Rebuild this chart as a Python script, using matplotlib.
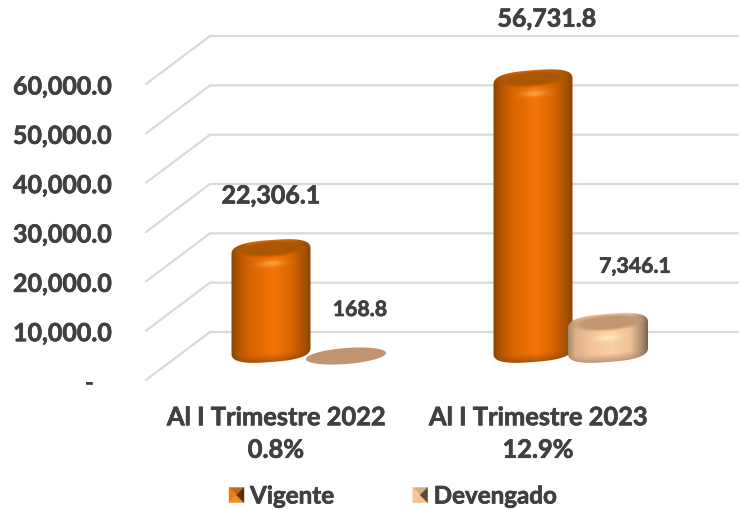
import numpy as np
import matplotlib
matplotlib.use("Agg")
import matplotlib.pyplot as plt
import matplotlib.patheffects as pe
from matplotlib.patches import Polygon
from matplotlib.legend_handler import HandlerBase

# ---------- data ----------
categories = ["Al I Trimestre 2022\n0.8%", "Al I Trimestre 2023\n12.9%"]
series_names = ["Vigente", "Devengado"]
vigente = [22306.1, 56731.8]
devengado = [168.8, 7346.1]
y_ticks = [0, 10000, 20000, 30000, 40000, 50000, 60000]
y_tick_labels = ["-   ", "10,000.0", "20,000.0", "30,000.0", "40,000.0", "50,000.0", "60,000.0"]

# ---------- layout (pixels of the 739x510 canvas) ----------
W, H = 739, 510
K = 0.004933          # pixels per unit
WALL_Y0 = 333         # pixel row of value 0 on the back wall
FRONT_Y0 = 381        # pixel row of value 0 on the front edge
BAR_Y0 = 363
v2 = lambda px: (WALL_Y0 - px) / K   # pixel row -> axis value

plt.rcParams["font.family"] = ["Lato", "DejaVu Sans"]
plt.rcParams["font.weight"] = "bold"
TXT = "#404040"
GRID = "#d9d9d9"
STROKE = [pe.withStroke(linewidth=0.5, foreground=TXT)]

fig = plt.figure(figsize=(W / 100, H / 100), dpi=100)
ax = fig.add_axes([0, 0, 1, 1])
ax.set_xlim(0, W)
ax.set_ylim(v2(H), v2(0))
ax.axis("off")

# gridlines: front edge -> back wall -> right side
for t in y_ticks:
    ax.plot([146, 210, W], [t + (WALL_Y0 - FRONT_Y0) / K, t, t], color=GRID, lw=1.6,
            solid_capstyle="round", solid_joinstyle="miter", zorder=1)

# y axis labels on the front plane
ay = fig.add_axes([112 / W, 1 - (FRONT_Y0 + 1) / H, (W - 112) / W, (FRONT_Y0 - 85) / H], frameon=False)
ay.set_ylim(0, 60000)
ay.set_xticks([])
ay.set_yticks(y_ticks)
ay.set_yticklabels(y_tick_labels, fontsize=18.0, color=TXT, fontweight="bold", path_effects=STROKE)
ay.tick_params(axis="y", length=0, pad=0)
ay.patch.set_alpha(0)


def mix(a, b, t):
    return a + (b - a) * t[..., None]


def hexrgb(c):
    return np.array(matplotlib.colors.to_rgb(c))


def outline(cx, w, yt, yb, b, tilt, ex=0.72, n=120):
    th = np.linspace(0, np.pi, n)
    c, s = np.cos(th), np.sin(th)
    ux = np.sign(c) * np.abs(c) ** ex
    uy = np.abs(s) ** ex
    top_x, top_y = cx + w * ux, yt - b * uy - tilt * ux
    bot_x, bot_y = cx - w * ux, yb + b * uy + tilt * ux
    return np.r_[top_x, bot_x], np.r_[top_y, bot_y]


def cylinder(cx, value, w, stops, dark, light, z):
    b, tilt = 12.0, 3.0
    yt = min(357, BAR_Y0 - value * K)
    yb = BAR_Y0 - b
    if value * K < 5:          # practically empty bar: only the flat cap is visible
        xs, ys = outline(cx, w, yt, yt, 8.0, 3.0, ex=1.0)
        ax.add_patch(Polygon(np.c_[xs, v2(ys)], closed=True, fc=dark, ec="none", zorder=z))
        return
    xs, ys = outline(cx, w, yt, max(yb, yt), b, tilt)
    x0, x1 = cx - w - 1, cx + w + 1
    y0, y1 = ys.min() - 1, ys.max() + 1
    px = np.arange(x0, x1, 0.5)
    py = np.arange(y0, y1, 0.5)
    X, Y = np.meshgrid(px, py)
    u = (X - cx) / w
    pos, cols = zip(*stops)
    cols = np.array([hexrgb(c) for c in cols])
    img = np.stack([np.interp(u, pos, cols[:, i]) for i in range(3)], axis=-1)
    ty = (Y - (yt - tilt * u)) / b
    # darker top face with soft edge
    d = np.sqrt((u / 0.72) ** 2 + ((ty + 0.30) / 0.55) ** 2)
    m = np.clip((1.35 - d) / 0.45, 0, 1)
    img = mix(img, hexrgb(dark), m * 0.95)
    # highlight on the bevel
    hl = np.exp(-((u / 0.30) ** 2) - ((ty - 0.95) / 0.25) ** 2)
    img = mix(img, hexrgb(light), hl * 0.75)
    # shaded lower edge
    tb = (Y - (yb - tilt * u)) / b
    img = mix(img, hexrgb(dark) * 0.8, np.clip((tb - 0.25) / 0.75, 0, 1) * 0.65)
    im = ax.imshow(np.clip(img, 0, 1), extent=(x0, x1, v2(y1), v2(y0)), origin="upper",
                   aspect="auto", zorder=z, interpolation="bilinear")
    clip = Polygon(np.c_[xs, v2(ys)], closed=True, transform=ax.transData, fc="none", ec="none")
    ax.add_patch(clip)
    im.set_clip_path(clip)


ORANGE = [(-1, "#8f4700"), (-0.82, "#b55600"), (-0.55, "#d86400"), (0.05, "#f47508"),
          (0.5, "#d96500"), (0.8, "#a85200"), (1, "#8c4500")]
PEACH = [(-1, "#a88a6c"), (-0.82, "#dcb08a"), (-0.4, "#f4c49a"), (0.1, "#fbd0a4"),
         (0.55, "#eec096"), (0.85, "#a88c70"), (1, "#786048")]

centers_v = [271, 533]
centers_d = [346, 608]
for cx, v in zip(centers_v, vigente):
    cylinder(cx, v, 39.5, ORANGE, "#a85500", "#ffb050", 3)
for cx, v in zip(centers_d, devengado):
    cylinder(cx, v, 40, PEACH, "#c09470", "#fff4c0", 4)

# value labels, anchored on the bars
label_offsets_v = [(0, 56), (14, 63)]
label_offsets_d = [(14, 46), (27, 59)]
for cx, v, off in zip(centers_v, vigente, label_offsets_v):
    top = v2(BAR_Y0 - v * K)
    ax.annotate(f"{v:,.1f}", (cx, top), xytext=off, textcoords="offset pixels", ha="center", va="center",
                fontsize=18.0, color=TXT, fontweight="bold", zorder=6, path_effects=STROKE)
for cx, v, off in zip(centers_d, devengado, label_offsets_d):
    top = v2(min(357, BAR_Y0 - v * K))
    ax.annotate(f"{v:,.1f}", (cx, top), xytext=off, textcoords="offset pixels", ha="center", va="center",
                fontsize=15.3, color=TXT, fontweight="bold", zorder=6, path_effects=STROKE)

# category labels
for x, c in zip([276, 538], categories):
    ax.text(x, v2(435), c, ha="center", va="center", fontsize=18.3, color=TXT, fontweight="bold",
            linespacing=1.5, zorder=6, path_effects=STROKE)


# legend with pyramid swatches
class Pyramid(HandlerBase):
    def __init__(self, cols):
        super().__init__()
        self.cols = cols

    def create_artists(self, legend, orig, xd, yd, w, h, fs, trans):
        x0 = -xd
        y0 = -yd + h / 2 - w / 2
        m = (x0 + w / 2, y0 + w / 2)
        a, b, c, d = (x0, y0), (x0 + w, y0), (x0 + w, y0 + w), (x0, y0 + w)
        tris = [(d, c, m), (a, d, m), (a, b, m), (b, c, m)]
        return [Polygon(t, closed=True, fc=k, ec=k, lw=0.3, transform=trans) for t, k in zip(tris, self.cols)]


h1 = Polygon([(0, 0)], label=series_names[0])
h2 = Polygon([(0, 0)], label=series_names[1])
leg = ax.legend(
    handles=[h1, h2], ncol=2, frameon=False, prop={"size": 17.4, "weight": "bold"},
    labelcolor=TXT, loc="center left", bbox_to_anchor=(229 / W, 1 - 497 / H),
    handlelength=0.62, handleheight=0.7, handletextpad=0.25, columnspacing=3.27, borderpad=0, borderaxespad=0,
    handler_map={h1: Pyramid(["#c86410", "#f07a10", "#f48a20", "#5a2c00"]),
                 h2: Pyramid(["#d8ac84", "#f8c79c", "#f4c090", "#5e4a38"])},
)
for t in leg.get_texts():
    t.set_path_effects(STROKE)

fig.savefig("out.png", dpi=100)
